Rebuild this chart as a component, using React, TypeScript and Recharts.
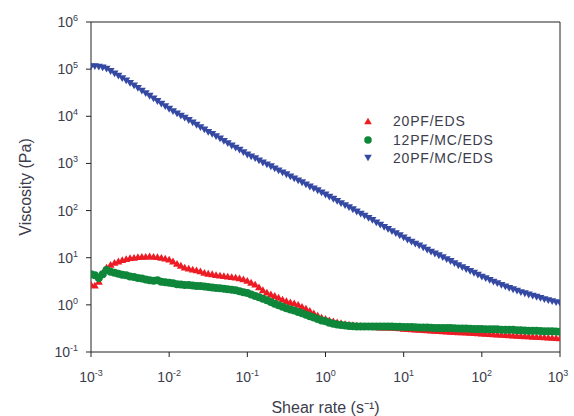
import React from 'react'
import { ScatterChart, Scatter, XAxis, YAxis, ReferenceLine } from 'recharts'

// shear rate (1/s), 20 points per decade
const shearRate = [
  0.001, 0.00112, 0.00126, 0.00141, 0.00158, 0.00178, 0.002, 0.00224, 0.00251, 0.00282,
  0.00316, 0.00355, 0.00398, 0.00447, 0.00501, 0.00562, 0.00631, 0.00708, 0.00794, 0.00891,
  0.01, 0.0112, 0.0126, 0.0141, 0.0158, 0.0178, 0.02, 0.0224, 0.0251, 0.0282,
  0.0316, 0.0355, 0.0398, 0.0447, 0.0501, 0.0562, 0.0631, 0.0708, 0.0794, 0.0891,
  0.1, 0.112, 0.126, 0.141, 0.158, 0.178, 0.2, 0.224, 0.251, 0.282,
  0.316, 0.355, 0.398, 0.447, 0.501, 0.562, 0.631, 0.708, 0.794, 0.891,
  1, 1.12, 1.26, 1.41, 1.58, 1.78, 2, 2.24, 2.51, 2.82,
  3.16, 3.55, 3.98, 4.47, 5.01, 5.62, 6.31, 7.08, 7.94, 8.91,
  10, 11.2, 12.6, 14.1, 15.8, 17.8, 20, 22.4, 25.1, 28.2,
  31.6, 35.5, 39.8, 44.7, 50.1, 56.2, 63.1, 70.8, 79.4, 89.1,
  100, 112, 126, 141, 158, 178, 200, 224, 251, 282,
  316, 355, 398, 447, 501, 562, 631, 708, 794, 891,
  1000,
]

// viscosity (Pa)
const pfEds = [
  2.75, 2.63, 3.16, 4.9, 6.31, 7.24, 7.94, 8.51, 9.12, 9.55,
  10.0, 10.2, 10.5, 10.7, 10.7, 10.9, 10.7, 10.5, 10.2, 9.77,
  9.33, 8.51, 7.59, 6.92, 6.31, 6.03, 5.75, 5.5, 5.25, 4.9,
  4.68, 4.57, 4.37, 4.27, 4.17, 4.07, 3.98, 3.89, 3.72, 3.55,
  3.31, 3.02, 2.75, 2.4, 2.09, 1.86, 1.7, 1.58, 1.45, 1.32,
  1.23, 1.15, 1.1, 1.02, 0.933, 0.851, 0.759, 0.676, 0.603, 0.55,
  0.513, 0.479, 0.457, 0.437, 0.417, 0.398, 0.389, 0.38, 0.372, 0.363,
  0.355, 0.351, 0.347, 0.343, 0.339, 0.339, 0.339, 0.335, 0.331, 0.324,
  0.316, 0.312, 0.309, 0.305, 0.302, 0.298, 0.295, 0.291, 0.288, 0.285,
  0.282, 0.278, 0.275, 0.272, 0.269, 0.266, 0.263, 0.26, 0.257, 0.254,
  0.251, 0.248, 0.245, 0.243, 0.24, 0.237, 0.234, 0.232, 0.229, 0.226,
  0.224, 0.221, 0.219, 0.216, 0.214, 0.211, 0.209, 0.207, 0.204, 0.202,
  0.2,
]

const pfMcEds12 = [
  4.47, 4.27, 3.72, 4.47, 5.5, 5.01, 4.79, 4.57, 4.37, 4.27,
  3.98, 3.89, 3.72, 3.63, 3.47, 3.31, 3.24, 3.31, 3.09, 3.02,
  2.95, 2.88, 2.75, 2.69, 2.63, 2.63, 2.57, 2.51, 2.51, 2.45,
  2.4, 2.34, 2.29, 2.24, 2.19, 2.14, 2.09, 2.04, 1.95, 1.86,
  1.78, 1.66, 1.55, 1.45, 1.35, 1.26, 1.15, 1.05, 0.977, 0.912,
  0.851, 0.794, 0.759, 0.708, 0.661, 0.617, 0.575, 0.537, 0.501, 0.468,
  0.447, 0.417, 0.398, 0.385, 0.372, 0.363, 0.355, 0.351, 0.347, 0.347,
  0.347, 0.347, 0.347, 0.347, 0.347, 0.347, 0.347, 0.347, 0.343, 0.343,
  0.339, 0.339, 0.339, 0.335, 0.331, 0.331, 0.331, 0.328, 0.324, 0.324,
  0.324, 0.324, 0.324, 0.32, 0.316, 0.316, 0.316, 0.312, 0.309, 0.309,
  0.309, 0.305, 0.302, 0.302, 0.302, 0.298, 0.295, 0.295, 0.295, 0.291,
  0.288, 0.285, 0.282, 0.282, 0.282, 0.278, 0.275, 0.275, 0.275, 0.272,
  0.269,
]

const pfMcEds20 = [
  112000, 113000, 110000, 106000, 100000, 89100, 79400, 70800, 63100, 56200,
  50100, 44200, 38900, 34300, 30200, 26600, 23400, 20600, 18200, 16000,
  14100, 12600, 11200, 10100, 9120, 8130, 7240, 6460, 5750, 5130,
  4570, 4120, 3720, 3310, 2950, 2630, 2340, 2110, 1910, 1700,
  1510, 1380, 1260, 1130, 1020, 933, 851, 767, 692, 631,
  575, 519, 468, 427, 389, 351, 316, 288, 263, 237,
  214, 193, 174, 157, 141, 127, 115, 104, 93.3, 84.1,
  75.9, 68.4, 61.7, 55.0, 49.0, 44.2, 39.8, 35.9, 32.4, 29.2,
  26.3, 23.7, 21.4, 19.5, 17.8, 16.1, 14.5, 13.2, 12.0, 11.0,
  10.0, 9.12, 8.32, 7.5, 6.76, 6.17, 5.62, 5.13, 4.68, 4.27,
  3.89, 3.59, 3.31, 3.05, 2.82, 2.6, 2.4, 2.24, 2.09, 1.95,
  1.82, 1.72, 1.62, 1.53, 1.45, 1.37, 1.29, 1.23, 1.17, 1.12,
  1.07,
]

const xTicks = [0.001, 0.01, 0.1, 1, 10, 100, 1000]
const yTicks = [0.1, 1, 10, 100, 1000, 10000, 100000, 1000000]

const FONT = '"Liberation Sans", Arial, sans-serif'
const TEXT = '#3c3c4c'

const series = [
  { name: '20PF/EDS', color: '#ed1c24', shape: 'up', values: pfEds },
  { name: '12PF/MC/EDS', color: '#0f873b', shape: 'circle', values: pfMcEds12 },
  { name: '20PF/MC/EDS', color: '#3549a3', shape: 'down', values: pfMcEds20 },
]

const toPoints = (values: number[]) =>
  shearRate.map((x, i) => ({ x, y: values[i] }))

function marker(kind: string, color: string, cx: number, cy: number, r = 4) {
  if (kind === 'circle') return <circle cx={cx} cy={cy} r={r} fill={color} />
  const h = r * 1.7
  const pts =
    kind === 'up'
      ? `${cx - r},${cy + h / 2} ${cx + r},${cy + h / 2} ${cx},${cy - h / 2}`
      : `${cx - r},${cy - h / 2} ${cx + r},${cy - h / 2} ${cx},${cy + h / 2}`
  return <polygon points={pts} fill={color} />
}

const exponent = (v: number) => String(Math.round(Math.log10(v)))

function XTick({ x, y, payload }: any) {
  return (
    <text x={x} y={y + 23} textAnchor="middle" fontFamily={FONT} fontSize={14} fill={TEXT}>
      <tspan>10</tspan>
      <tspan dy={-6} fontSize={9}>{exponent(payload.value)}</tspan>
    </text>
  )
}

function YTick({ x, y, payload }: any) {
  return (
    <text x={x} y={y + 5} textAnchor="end" fontFamily={FONT} fontSize={14} fill={TEXT}>
      <tspan>10</tspan>
      <tspan dy={-6} fontSize={9}>{exponent(payload.value)}</tspan>
    </text>
  )
}

function LegendBox() {
  return (
    <div
      style={{
        position: 'absolute',
        left: 356,
        top: 112,
        fontFamily: FONT,
        fontSize: 14,
        letterSpacing: 0.8,
        color: TEXT,
        lineHeight: '18.5px',
      }}
    >
      {series.map((s) => (
        <div key={s.name} style={{ display: 'flex', alignItems: 'center' }}>
          <svg width={24} height={12}>
            {marker(s.shape, s.color, 12, 6, 3.8)}
          </svg>
          <span style={{ marginLeft: 13 }}>{s.name}</span>
        </div>
      ))}
    </div>
  )
}

export default function App() {
  return (
    <div style={{ position: 'absolute', left: 0, top: 0, width: 574, height: 416, background: '#fff' }}>
      <ScatterChart width={574} height={416} margin={{ top: 22, right: 14, bottom: 0, left: 0 }}>
        <XAxis
          dataKey="x"
          type="number"
          scale="log"
          domain={[0.001, 1000]}
          ticks={xTicks}
          allowDataOverflow
          height={64}
          tickSize={5}
          tick={<XTick />}
          stroke="#222"
          label={{
            value: 'Shear rate (s⁻¹)',
            position: 'insideBottom',
            offset: 3,
            fontFamily: FONT,
            fontSize: 16,
            fill: TEXT,
          }}
        />
        <YAxis
          dataKey="y"
          type="number"
          scale="log"
          domain={[0.1, 1000000]}
          ticks={yTicks}
          allowDataOverflow
          width={91}
          tickSize={5}
          tickMargin={8}
          tick={<YTick />}
          stroke="#222"
          label={{
            value: 'Viscosity (Pa)',
            angle: -90,
            position: 'insideLeft',
            offset: 25,
            fontFamily: FONT,
            fontSize: 16,
            fill: TEXT,
            style: { textAnchor: 'middle' },
          }}
        />
        <ReferenceLine y={1000000} stroke="#222" />
        <ReferenceLine x={1000} stroke="#222" />
        {series.map((s) => (
          <Scatter
            key={s.name}
            name={s.name}
            data={toPoints(s.values)}
            fill={s.color}
            isAnimationActive={false}
            shape={(p: any) => marker(s.shape, s.color, p.cx, p.cy)}
          />
        ))}
      </ScatterChart>
      <LegendBox />
    </div>
  )
}
